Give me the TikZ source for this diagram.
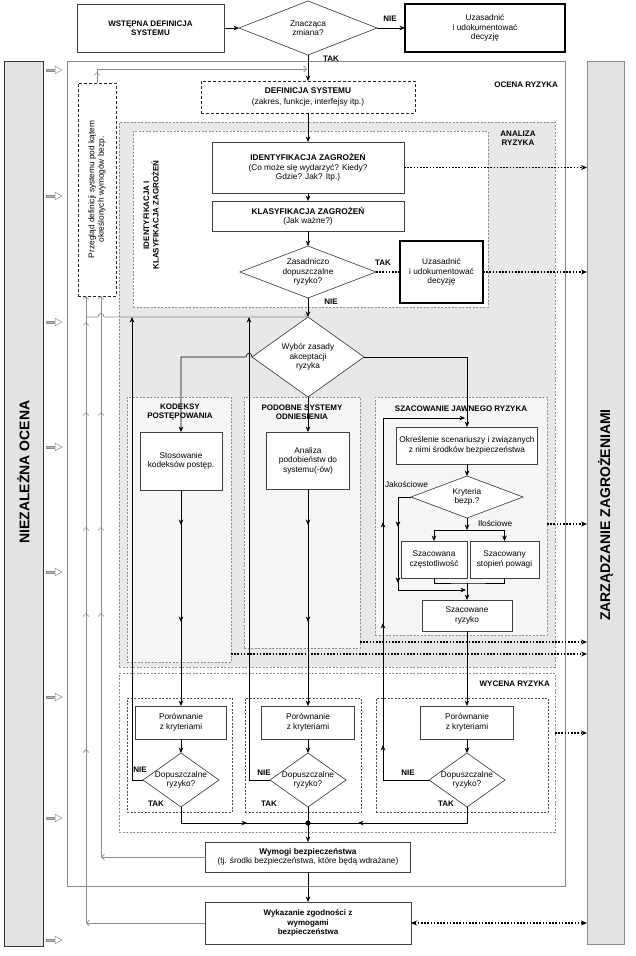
\documentclass[tikz,border=0pt]{standalone}
\usepackage{fontspec}
\setmainfont{Liberation Sans}
\usetikzlibrary{shapes.geometric,arrows.meta,decorations.markings,calc}
\definecolor{gline}{HTML}{8A8A8A}
\definecolor{sidefill}{HTML}{E3E3E3}
\definecolor{anfill}{HTML}{E8E8E8}
\definecolor{subfill}{HTML}{F6F6F6}
\definecolor{cgray}{HTML}{8E8E8E}
\begin{document}
\begin{tikzpicture}[x=1pt,y=-1pt,
 every node/.style={inner sep=0pt,outer sep=0pt},
 txt/.style={font=\fontsize{8.3}{9.6}\selectfont,align=center},
 btxt/.style={font=\fontsize{8}{9.5}\selectfont\bfseries,align=center},
 pbox/.style={draw=black!75,line width=0.6pt,fill=white,txt},
 tbox/.style={draw=black,line width=1.3pt,fill=white,txt},
 dbox/.style={draw=black!85,dash pattern=on 3pt off 2pt,line width=0.6pt,fill=white,txt},
 cont/.style={draw=cgray,dash pattern=on 2pt off 1.5pt,line width=0.6pt,anchor=north west},
 subc/.style={draw=black!70,dash pattern=on 2pt off 1.5pt,line width=0.5pt,anchor=north west},
 dia/.style={diamond,draw=black!80,line width=0.6pt,fill=white},
 sidebox/.style={fill=sidefill,line width=0.8pt,anchor=north west},
 sidelbl/.style={rotate=90,font=\fontsize{14}{16}\selectfont\bfseries},
 arr/.style={-{Stealth[length=5.5pt,width=4.6pt,inset=1.8pt]},line width=0.6pt},
 ln/.style={line width=0.6pt},
 garr/.style={color=gline,line width=0.7pt,-{Straight Barb[length=3pt,width=6pt]}},
 dots/.style={line width=1.6pt,dash pattern=on 1.6pt off 1.6pt,-{Stealth[length=6pt,width=5pt,inset=2pt]}},
 mk/.style={postaction={decorate,decoration={markings,mark=at position #1 with {\arrow{Stealth[length=5.5pt,width=4.6pt,inset=1.8pt]}}}}},
 gmk/.style={postaction={decorate,decoration={markings,mark=at position #1 with {\arrow{Straight Barb[length=3pt,width=6pt]}}}}}
]
\useasboundingbox (0,0) rectangle (635,956);

% ---- side boxes
\node[sidebox,draw=black!80,minimum width=39,minimum height=885] (niez) at (4,61) {};
\node[sidelbl] (niezt) at (23.5,472) {NIEZALEŻNA OCENA};
\node[sidebox,draw=gline,minimum width=37,minimum height=883] (zarz) at (587,61) {};
\node[sidelbl] (zarzt) at (605.5,515) {ZARZĄDZANIE ZAGROŻENIAMI};
\foreach \yy in {70,196,322,447,572,697,818,940} {
  \draw[gline,fill=gray!55,line width=0.4pt] (46,\yy-1.3) rectangle (55,\yy+1.3);
  \draw[gline,fill=white,line width=0.5pt] (55,\yy-3.8) -- (62,\yy) -- (55,\yy+3.8) -- cycle;
}

% ---- top row
\node[pbox,btxt,minimum width=147,minimum height=48] (wst) at (150.5,28) {WSTĘPNA DEFINICJA\\SYSTEMU};
\node[dia,minimum width=138,minimum height=54] (zn) at (308,28) {};
\node[txt] (znt) at (zn) {Znacząca\\zmiana?};
\node[tbox,minimum width=160,minimum height=48] (uz1) at (485,28) {Uzasadnić\\i udokumentować\\decyzję};
\draw[arr] (wst) -- (zn);
\draw[arr] (zn) -- (uz1);
\node[btxt] (nie0) at (390,19) {NIE};
\node[btxt] (tak0) at (331,59) {TAK};

% ---- OCENA RYZYKA
\node[draw=gline,line width=0.7pt,minimum width=498,minimum height=825,anchor=north west] (ocena) at (67,61) {};
\node[btxt,anchor=east] (ocenat) at (558,85) {OCENA RYZYKA};

\node[dbox,minimum width=214,minimum height=32] (def) at (308,97) {\textbf{DEFINICJA SYSTEMU}\\[1pt](zakres, funkcje, interfejsy itp.)};
\draw[arr] (zn.south) -- (def.north);

\node[dbox,minimum width=38,minimum height=213,anchor=north west] (prz) at (78,83) {};
\node[txt,rotate=90] (przt) at (prz) {Przegląd definicji systemu pod kątem\\określonych wymogów bezp.};
\coordinate (tj) at (307,69);
\draw[garr] (prz.north) |- (tj);
\draw[garr] (prz.north) -- ++(0,-11);

% ---- ANALIZA RYZYKA
\node[cont,fill=anfill,minimum width=436,minimum height=545] (anal) at (119,122) {};
\node[btxt] (analt) at (518,138) {ANALIZA\\RYZYKA};
\node[cont,fill=white,minimum width=355,minimum height=176] (idc) at (133,131) {};
\node[btxt,rotate=90] (idct) at (151,215) {IDENTYFIKACJA I\\KLASYFIKACJA ZAGROŻEŃ};

\node[pbox,minimum width=192,minimum height=51] (ident) at (308,167.5) {\textbf{IDENTYFIKACJA ZAGROŻEŃ}\\(Co może się wydarzyć? Kiedy?\\Gdzie? Jak? Itp.)};
\node[pbox,minimum width=192,minimum height=30] (klas) at (308,216) {\textbf{KLASYFIKACJA ZAGROŻEŃ}\\(Jak ważne?)};
\node[dia,minimum width=136,minimum height=52] (zas) at (308,272) {};
\node[txt] (zast) at (zas) {Zasadniczo\\dopuszczalne\\ryzyko?};
\node[tbox,minimum width=83,minimum height=62] (uz2) at (441.5,272) {Uzasadnić\\i udokumentować\\decyzję};
\draw[arr] (def.south) -- (ident.north);
\draw[arr] (ident.south) -- (klas.north);
\draw[arr] (klas.south) -- (zas.north);
\draw[line width=1.6pt,dash pattern=on 1.6pt off 1.6pt] (zas.east) -- (uz2.west);
\node[btxt] (tak1) at (383,263) {TAK};
\node[btxt] (nie1) at (331,302) {NIE};

\node[dia,minimum width=112,minimum height=80] (wyb) at (308,357) {};
\node[txt] (wybt) at (wyb) {Wybór zasady\\akceptacji\\ryzyka};
\draw[arr] (zas.south) -- (wyb.north);

% sub-areas
\node[cont,fill=subfill,minimum width=104,minimum height=265] (kod) at (127,397) {};
\node[btxt] (kodt) at (180,412) {KODEKSY\\POSTĘPOWANIA};
\node[cont,fill=subfill,minimum width=116,minimum height=251] (pod) at (244,397) {};
\node[btxt] (podt) at (302,412) {PODOBNE SYSTEMY\\ODNIESIENIA};
\node[cont,fill=subfill,minimum width=172,minimum height=238] (sza) at (375,397) {};
\node[btxt] (szat) at (461,409) {SZACOWANIE JAWNEGO RYZYKA};

\node[pbox,minimum width=82,minimum height=58] (stos) at (181,461) {Stosowanie\\kodeksów postęp.};
\node[pbox,minimum width=83,minimum height=57] (anl) at (308,460.5) {Analiza\\podobieństw do\\systemu(-ów)};
\node[pbox,minimum width=141,minimum height=37] (okr) at (467,445.5) {Określenie scenariuszy i związanych\\z nimi środków bezpieczeństwa};
\node[dia,minimum width=112,minimum height=42] (kry) at (467,497) {};
\node[txt] (kryt) at (kry) {Kryteria\\bezp.?};
\node[txt,anchor=west] (jak) at (385,484) {Jakościowe};
\node[txt,anchor=west] (ilo) at (478,523) {Ilościowe};
\node[pbox,minimum width=66,minimum height=37] (sz1) at (434,559.5) {Szacowana\\częstotliwość};
\node[pbox,minimum width=69,minimum height=37] (sz2) at (504.5,559.5) {Szacowany\\stopień powagi};
\node[pbox,minimum width=90,minimum height=31] (szr) at (467,615.5) {Szacowane\\ryzyko};

% Wybor branches
\draw[arr] (wyb.west) .. controls (252,352) and (246,352) .. (246,357) -| (stos.north);
\draw[arr] (wyb.east) -| (okr.north);
\draw[arr] (wyb.south) -- (anl.north);

\draw[arr] (okr.south) -- (kry.north);
\coordinate (ks) at (467,530);
\draw[arr] (kry.south) -- (ks);
\draw[arr] (ks) -| (sz1.north);
\draw[arr] (ks) -| (sz2.north);
\coordinate (kb) at (467,583);
\draw[ln] (sz1.south) |- (kb) -| (sz2.south);
\draw[arr] (kb) -- (szr.north);
\coordinate (jc) at (398,590);
\coordinate (jq) at (466,590);
\draw[arr,mk=43pt,mk=99pt] (kry.west) -| (jc) -- (jq);

% ---- WYCENA RYZYKA
\node[cont,minimum width=436,minimum height=159] (wyc) at (119,673) {};
\node[btxt,anchor=east] (wyct) at (550,684) {WYCENA RYZYKA};
\node[subc,minimum width=105,minimum height=114] (w1) at (127,698) {};
\node[subc,minimum width=116,minimum height=114] (w2) at (245,698) {};
\node[subc,minimum width=172,minimum height=114] (w3) at (376,698) {};
\node[pbox,minimum width=91,minimum height=33] (por1) at (181,722.5) {Porównanie\\z kryteriami};
\node[pbox,minimum width=93,minimum height=33] (por2) at (308,722.5) {Porównanie\\z kryteriami};
\node[pbox,minimum width=93,minimum height=33] (por3) at (467,722.5) {Porównanie\\z kryteriami};
\node[dia,minimum width=76,minimum height=54] (dop1) at (181,780) {};
\node[dia,minimum width=76,minimum height=54] (dop2) at (308,780) {};
\node[dia,minimum width=76,minimum height=54] (dop3) at (467,780) {};
\node[txt] (dop1t) at (dop1) {Dopuszczalne\\ryzyko?};
\node[txt] (dop2t) at (dop2) {Dopuszczalne\\ryzyko?};
\node[txt] (dop3t) at (dop3) {Dopuszczalne\\ryzyko?};
\node[btxt] (nie2) at (140,770) {NIE};
\node[btxt] (nie3) at (264,773) {NIE};
\node[btxt] (nie4) at (408,773) {NIE};
\node[btxt] (tak2) at (156,804) {TAK};
\node[btxt] (tak3) at (269,804) {TAK};
\node[btxt] (tak4) at (446,804) {TAK};

\draw[arr,mk=35pt,mk=132pt] (stos.south) -- (por1.north);
\draw[arr,mk=36pt,mk=133pt] (anl.south) -- (por2.north);
\draw[arr] (szr.south) -- (por3.north);
\draw[arr] (por1.south) -- (dop1.north);
\draw[arr] (por2.south) -- (dop2.north);
\draw[arr] (por3.south) -- (dop3.north);

% NIE loops
\coordinate (l1) at (132,317);
\coordinate (l2) at (249,317);
\coordinate (l3) at (383,418);
\coordinate (l3e) at (465,418);
\draw[arr] (dop1.west) -| (l1);
\draw[arr] (dop2.west) -| (l2);
\draw[arr,mk=81pt,mk=203pt,mk=304pt] (dop3.west) -| (l3) -- (l3e);

% merge
\coordinate (mrg) at (308,823);
\draw[ln,mk=82pt] (dop1.south) |- (mrg);
\draw[ln,mk=125pt] (dop3.south) |- (mrg);
\draw[ln] (dop2.south) -- (mrg);
\fill (mrg) circle (2.6);

\node[pbox,minimum width=205,minimum height=30] (wym) at (308,857) {\textbf{Wymogi bezpieczeństwa}\\(tj. środki bezpieczeństwa, które będą wdrażane)};
\node[pbox,btxt,minimum width=206,minimum height=42] (wyk) at (308,923) {Wykazanie zgodności z\\wymogami\\bezpieczeństwa};
\draw[arr] (mrg) -- (wym.north);
\draw[arr] (wym.south) -- (wyk.north);

% gray feedback lines
\coordinate (gA) at (86,923);
\coordinate (gB) at (101,857);
\draw[garr] (wym.west) -- (gB);
\draw[garr] (wyk.west) -- (gA);
\draw[garr,gmk=244pt,gmk=330pt,gmk=445pt] (gB) -- (gB |- prz.south);
\draw[garr,gmk=174pt,gmk=310pt,gmk=396pt,gmk=511pt,gmk=601pt] (gA) -- (gA |- prz.south);
\draw[garr] (86,317) -- (98,317) .. controls (98,312) and (104,312) .. (104,317) -- (wyb.north);

% dotted links to ZARZADZANIE
\coordinate (d3) at (547,524);
\coordinate (d4) at (360,642);
\coordinate (d5) at (231,654);
\coordinate (d6) at (555,733);
\draw[dots] (ident.east) -- (ident.east -| zarz.west);
\draw[dots] (uz2.east) -- (uz2.east -| zarz.west);
\draw[dots] (d3) -- (d3 -| zarz.west);
\draw[dots] (d4) -- (d4 -| zarz.west);
\draw[dots] (d5) -- (d5 -| zarz.west);
\draw[dots] (d6) -- (d6 -| zarz.west);
\draw[dots,{Stealth[length=6pt,width=5pt,inset=2pt]}-{Stealth[length=6pt,width=5pt,inset=2pt]}] (wyk.east) -- (wyk.east -| zarz.west);
\end{tikzpicture}
\end{document}
